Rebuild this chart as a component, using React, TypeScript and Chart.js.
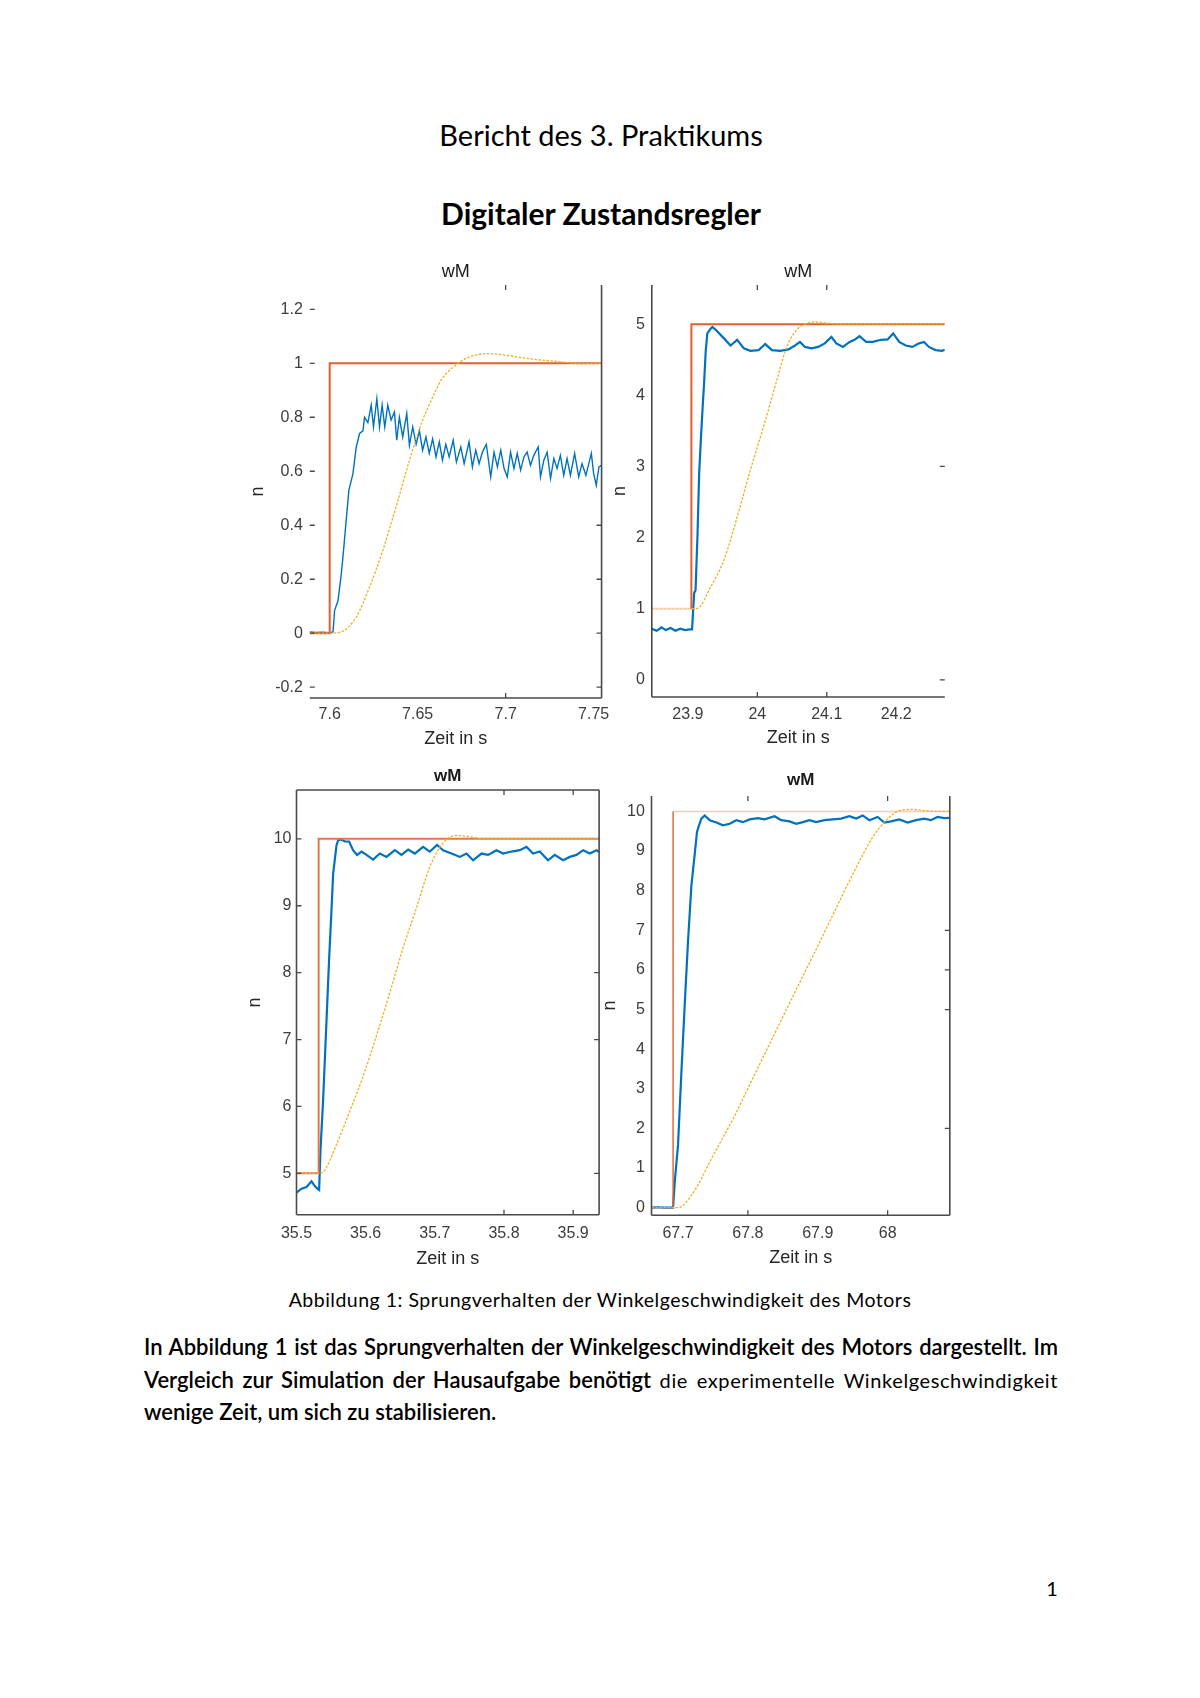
import React, { useEffect, useRef } from "react";
import { Chart, registerables } from "chart.js";

Chart.register(...registerables);

type Pt = [number, number];

// ---------- texts ----------
const docTitle = "Bericht des 3. Praktikums";
const docSubtitle = "Digitaler Zustandsregler";
const figCaption = "Abbildung 1: Sprungverhalten der Winkelgeschwindigkeit des Motors";
const panelTitle = "wM";
const xAxisTitle = "Zeit in s";
const yAxisTitle = "n";
const pageNumber = "1";

// ---------- panel 1 (top left) ----------
const p1XRange: Pt = [7.5887, 7.7545];
const p1YRange: Pt = [-0.24, 1.29];
const p1XTicks = [7.6, 7.65, 7.7, 7.75];
const p1YTicks = [-0.2, 0, 0.2, 0.4, 0.6, 0.8, 1, 1.2];
const p1Reference: Pt[] = [[7.5887, 0], [7.6, 0], [7.6, 1], [7.7545, 1]];
const p1Simulation: Pt[] = [
  [7.5887, 0], [7.6, 0], [7.6066, 0.005], [7.6151, 0.06], [7.6226, 0.17], [7.6302, 0.307],
  [7.6377, 0.468], [7.6453, 0.64], [7.6528, 0.789], [7.6604, 0.9], [7.6632, 0.937],
  [7.6717, 0.993], [7.6792, 1.023], [7.6906, 1.036], [7.7, 1.03], [7.7132, 1.017],
  [7.732, 1.005], [7.7415, 0.999], [7.7545, 1.0],
];
const p1Measured: Pt[] = [
  [7.5887, 0.005], [7.592, 0.003], [7.596, 0.004], [7.6, 0.002], [7.6019, 0.005], [7.6028, 0.085],
  [7.6047, 0.12], [7.6066, 0.22], [7.6075, 0.28], [7.6094, 0.42], [7.6109, 0.53], [7.6132, 0.59],
  [7.6151, 0.69], [7.617, 0.74], [7.6189, 0.75], [7.6198, 0.8], [7.6217, 0.78], [7.6236, 0.845],
  [7.6249, 0.764], [7.6268, 0.869], [7.6283, 0.764], [7.6298, 0.845], [7.6313, 0.764], [7.633, 0.845],
  [7.6349, 0.79], [7.6368, 0.82], [7.6381, 0.715], [7.6396, 0.8], [7.6415, 0.727], [7.6438, 0.814],
  [7.6453, 0.696], [7.6472, 0.764], [7.6491, 0.7], [7.651, 0.75], [7.6528, 0.678], [7.6547, 0.727],
  [7.6566, 0.666], [7.6585, 0.72], [7.6604, 0.653], [7.6623, 0.709], [7.6641, 0.641], [7.666, 0.7],
  [7.6679, 0.653], [7.6702, 0.715], [7.672, 0.634], [7.6745, 0.69], [7.6764, 0.628], [7.6792, 0.709],
  [7.6811, 0.616], [7.683, 0.678], [7.6849, 0.628], [7.6868, 0.671], [7.689, 0.7], [7.6915, 0.579],
  [7.6934, 0.671], [7.6953, 0.616], [7.6972, 0.678], [7.6991, 0.61], [7.7009, 0.579], [7.7028, 0.671],
  [7.7047, 0.61], [7.7066, 0.666], [7.7085, 0.604], [7.7104, 0.653], [7.7122, 0.671], [7.7141, 0.622],
  [7.716, 0.659], [7.7185, 0.69], [7.7198, 0.579], [7.7217, 0.641], [7.7236, 0.671], [7.7255, 0.573],
  [7.7274, 0.647], [7.7292, 0.61], [7.7311, 0.659], [7.733, 0.585], [7.7349, 0.647], [7.7368, 0.585],
  [7.7392, 0.666], [7.7415, 0.579], [7.7434, 0.628], [7.7456, 0.585], [7.7487, 0.666], [7.75, 0.591],
  [7.7515, 0.548], [7.753, 0.616], [7.7545, 0.622],
];

// ---------- panel 2 (top right) ----------
const p2XRange: Pt = [23.848, 24.27];
const p2YRange: Pt = [-0.24, 5.55];
const p2XTicks = [23.9, 24, 24.1, 24.2];
const p2YTicks = [0, 1, 2, 3, 4, 5];
const p2Reference: Pt[] = [[23.848, 1], [23.905, 1], [23.905, 5], [24.27, 5]];
const p2Simulation: Pt[] = [
  [23.848, 1], [23.906, 1], [23.9139, 1.007], [23.9329, 1.31], [23.9519, 1.685], [23.971, 2.29],
  [23.99, 2.95], [24.009, 3.56], [24.028, 4.21], [24.0424, 4.68], [24.0567, 4.92], [24.0662, 4.99],
  [24.0829, 5.03], [24.1043, 5.01], [24.1376, 5.0], [24.27, 5.0],
];
const p2Measured: Pt[] = [
  [23.848, 0.72], [23.855, 0.69], [23.862, 0.74], [23.868, 0.7], [23.875, 0.73], [23.882, 0.69],
  [23.889, 0.72], [23.896, 0.7], [23.903, 0.71], [23.906, 0.71], [23.909, 1.22], [23.911, 1.26],
  [23.9139, 2.06], [23.9162, 2.9], [23.9186, 3.37], [23.921, 3.79], [23.9233, 4.17], [23.9257, 4.63],
  [23.928, 4.87], [23.933, 4.94], [23.9353, 4.96], [23.94, 4.92], [23.9519, 4.8], [23.9614, 4.7],
  [23.971, 4.78], [23.9805, 4.66], [23.99, 4.625], [24.0019, 4.635], [24.0114, 4.72], [24.021, 4.635],
  [24.0329, 4.625], [24.0448, 4.645], [24.0543, 4.7], [24.0614, 4.75], [24.0686, 4.68], [24.0781, 4.66],
  [24.0876, 4.68], [24.0971, 4.73], [24.1067, 4.82], [24.1138, 4.73], [24.1233, 4.68], [24.1329, 4.75],
  [24.14, 4.78], [24.1471, 4.83], [24.1567, 4.75], [24.1662, 4.75], [24.1781, 4.78], [24.1876, 4.785],
  [24.1957, 4.87], [24.2043, 4.75], [24.2138, 4.7], [24.2233, 4.68], [24.2329, 4.73], [24.24, 4.75],
  [24.2471, 4.68], [24.2567, 4.635], [24.2662, 4.625], [24.27, 4.64],
];

// ---------- panel 3 (bottom left) ----------
const p3XRange: Pt = [35.5, 35.9375];
const p3YRange: Pt = [4.38, 10.73];
const p3XTicks = [35.5, 35.6, 35.7, 35.8, 35.9];
const p3YTicks = [5, 6, 7, 8, 9, 10];
const p3Reference: Pt[] = [[35.5, 5], [35.532, 5], [35.532, 10], [35.9375, 10]];
const p3Simulation: Pt[] = [
  [35.5, 5], [35.532, 5], [35.5385, 5.02], [35.5578, 5.43], [35.5771, 5.93], [35.5963, 6.45],
  [35.6157, 7.06], [35.6349, 7.7], [35.6541, 8.37], [35.6735, 8.97], [35.6927, 9.58], [35.712, 9.94],
  [35.7313, 10.05], [35.7505, 10.03], [35.7698, 10.0], [35.9375, 10.0],
];
const p3Measured: Pt[] = [
  [35.5, 4.71], [35.5072, 4.77], [35.5145, 4.795], [35.5217, 4.88], [35.5265, 4.81], [35.5313, 4.76],
  [35.5327, 4.75], [35.5347, 5.35], [35.5385, 6.1], [35.5434, 7.29], [35.5471, 8.19], [35.5506, 8.94],
  [35.553, 9.48], [35.5578, 9.9], [35.5602, 9.98], [35.565, 9.99], [35.5698, 9.96], [35.576, 9.96],
  [35.5818, 9.83], [35.5876, 9.76], [35.594, 9.81], [35.6012, 9.76], [35.6108, 9.69], [35.6204, 9.78],
  [35.6301, 9.73], [35.6421, 9.83], [35.6518, 9.76], [35.6614, 9.84], [35.671, 9.78], [35.683, 9.88],
  [35.6927, 9.81], [35.7033, 9.91], [35.712, 9.83], [35.7241, 9.78], [35.7361, 9.73], [35.7458, 9.78],
  [35.7553, 9.68], [35.7675, 9.78], [35.777, 9.76], [35.7891, 9.83], [35.7987, 9.78], [35.8108, 9.81],
  [35.8228, 9.83], [35.8325, 9.88], [35.842, 9.78], [35.8517, 9.81], [35.8637, 9.68], [35.8734, 9.76],
  [35.8854, 9.68], [35.8951, 9.73], [35.9048, 9.76], [35.9144, 9.83], [35.924, 9.78], [35.9337, 9.83],
  [35.9375, 9.8],
];

// ---------- panel 4 (bottom right) ----------
const p4XRange: Pt = [67.662, 68.089];
const p4YRange: Pt = [-0.19, 10.39];
const p4XTicks = [67.7, 67.8, 67.9, 68];
const p4YTicks = [0, 1, 2, 3, 4, 5, 6, 7, 8, 9, 10];
const p4Reference: Pt[] = [[67.662, 0], [67.6929, 0], [67.6929, 10], [68.089, 10]];
const p4Simulation: Pt[] = [
  [67.662, 0], [67.7, 0], [67.7214, 0.37], [67.75, 1.31], [67.7786, 2.24], [67.8071, 3.27],
  [67.8357, 4.3], [67.8643, 5.33], [67.8929, 6.35], [67.9214, 7.38], [67.95, 8.41], [67.9786, 9.35],
  [67.9977, 9.77], [68.0167, 10.02], [68.0357, 10.05], [68.0548, 10.02], [68.0738, 10.0], [68.089, 10.0],
];
const p4Measured: Pt[] = [
  [67.662, 0], [67.67, 0.01], [67.68, 0], [67.6929, 0], [67.6953, 0.65], [67.7, 1.59], [67.7049, 3.46],
  [67.7096, 5.14], [67.7143, 6.73], [67.7191, 8.13], [67.7239, 8.93], [67.7271, 9.48], [67.73, 9.65],
  [67.7334, 9.82], [67.7381, 9.9], [67.7453, 9.78], [67.7549, 9.72], [67.7643, 9.65], [67.7739, 9.69],
  [67.7834, 9.78], [67.7929, 9.73], [67.8024, 9.8], [67.8143, 9.83], [67.8239, 9.8], [67.8381, 9.88],
  [67.8477, 9.78], [67.8596, 9.75], [67.8691, 9.69], [67.8786, 9.73], [67.8881, 9.78], [67.8977, 9.73],
  [67.9096, 9.78], [67.9214, 9.8], [67.9334, 9.82], [67.9453, 9.88], [67.9549, 9.82], [67.9643, 9.9],
  [67.9739, 9.78], [67.9857, 9.86], [67.9953, 9.72], [68.0049, 9.75], [68.0167, 9.8], [68.0286, 9.72],
  [68.0406, 9.78], [68.0524, 9.82], [68.062, 9.78], [68.0714, 9.86], [68.081, 9.83], [68.089, 9.84],
];

// ---------- frame decorations (which edges and inner tick marks are visible) ----------
const p1Frame = { left: false, right: true, top: false, bottom: true, leftTicks: p1YTicks, rightTicks: [-0.2, 0, 0.2, 0.4], topTicks: [7.7], bottomTicks: [7.7] };
const p2Frame = { left: true, right: false, top: false, bottom: true, leftTicks: [] as number[], rightTicks: [0, 3], topTicks: [24, 24.1], bottomTicks: [24, 24.1] };
const p3Frame = { left: true, right: true, top: true, bottom: true, leftTicks: p3YTicks, rightTicks: [5, 7, 8], topTicks: [35.8, 35.9], bottomTicks: [35.8, 35.9] };
const p4Frame = { left: true, right: true, top: false, bottom: true, leftTicks: [] as number[], rightTicks: [2, 5, 6, 7], topTicks: [67.8, 68], bottomTicks: [67.8, 68] };

// ---------- layout / styles ----------
const RED = "#E0602E";
const placements = [
  { L: 310, R: 603, T: 285, B: 698, yw: 62.8, xh: 51.7, titleDy: 13, xPad: 7.4, yPad: 7, bold: false,
    ref: { pre: RED, vert: RED, post: RED, width: 2 }, simPre: "#EDB120" },
  { L: 652, R: 945, T: 285, B: 697, yw: 42.8, xh: 51.7, titleDy: 13, xPad: 8.4, yPad: 7, bold: false,
    ref: { pre: "rgba(245,185,150,0.55)", vert: RED, post: RED, width: 2 }, simPre: "rgba(237,177,32,0.25)" },
  { L: 296.7, R: 599.3, T: 790, B: 1214.8, yw: 52.5, xh: 55.3, titleDy: 14, xPad: 8.9, yPad: 5, bold: true,
    ref: { pre: "#E8764D", vert: "#E8764D", post: "#E8764D", width: 2 }, simPre: "#EDB120" },
  { L: 651.7, R: 950, T: 795.6, B: 1214.8, yw: 52.5, xh: 53.4, titleDy: 16, xPad: 8.9, yPad: 6.7, bold: true,
    ref: { pre: RED, vert: RED, post: "rgba(240,160,135,0.55)", width: 1.4 }, simPre: "#EDB120" },
];

const panels = [
  { xr: p1XRange, yr: p1YRange, xt: p1XTicks, yt: p1YTicks, ref: p1Reference, sim: p1Simulation, meas: p1Measured, frame: p1Frame, measWidth: 1.4 },
  { xr: p2XRange, yr: p2YRange, xt: p2XTicks, yt: p2YTicks, ref: p2Reference, sim: p2Simulation, meas: p2Measured, frame: p2Frame, measWidth: 2.2 },
  { xr: p3XRange, yr: p3YRange, xt: p3XTicks, yt: p3YTicks, ref: p3Reference, sim: p3Simulation, meas: p3Measured, frame: p3Frame, measWidth: 2.2 },
  { xr: p4XRange, yr: p4YRange, xt: p4XTicks, yt: p4YTicks, ref: p4Reference, sim: p4Simulation, meas: p4Measured, frame: p4Frame, measWidth: 2.2 },
];

const AX_FONT = "'Liberation Sans', Arial, sans-serif";
const DOC_FONT = "Lato, 'Open Sans', sans-serif";
const PAD_TOP = 40;

const fmt = (v: number) => String(Math.round(v * 10000) / 10000);
const toXY = (pts: Pt[]) => pts.map(([x, y]) => ({ x, y }));

function Panel({ idx }: { idx: number }) {
  const ref = useRef<HTMLCanvasElement>(null);
  const pl = placements[idx];
  const pn = panels[idx];
  const plotW = pl.R - pl.L;
  const plotH = pl.B - pl.T;
  const W = Math.ceil(pl.yw + plotW + 14);
  const H = Math.ceil(PAD_TOP + plotH + pl.xh + 2);
  const padRight = W - pl.yw - plotW;
  const padBottom = H - PAD_TOP - plotH - pl.xh;

  useEffect(() => {
    const frame = pn.frame;
    const framePlugin = {
      id: "matlabFrame" + idx,
      afterDatasetsDraw(chart: any) {
        const { ctx, chartArea: a, scales } = chart;
        const xs = scales.x;
        const ys = scales.y;
        ctx.save();
        ctx.strokeStyle = "#4a4a4a";
        ctx.lineWidth = 1.6;
        ctx.beginPath();
        if (frame.left) { ctx.moveTo(a.left, a.top); ctx.lineTo(a.left, a.bottom); }
        if (frame.right) { ctx.moveTo(a.right, a.top); ctx.lineTo(a.right, a.bottom); }
        if (frame.top) { ctx.moveTo(a.left, a.top); ctx.lineTo(a.right, a.top); }
        if (frame.bottom) { ctx.moveTo(a.left, a.bottom); ctx.lineTo(a.right, a.bottom); }
        ctx.stroke();
        ctx.lineWidth = 1.3;
        ctx.beginPath();
        const tl = 5;
        frame.leftTicks.forEach((v: number) => { const p = ys.getPixelForValue(v); ctx.moveTo(a.left, p); ctx.lineTo(a.left + tl, p); });
        frame.rightTicks.forEach((v: number) => { const p = ys.getPixelForValue(v); ctx.moveTo(a.right - tl, p); ctx.lineTo(a.right, p); });
        frame.topTicks.forEach((v: number) => { const p = xs.getPixelForValue(v); ctx.moveTo(p, a.top); ctx.lineTo(p, a.top + tl); });
        frame.bottomTicks.forEach((v: number) => { const p = xs.getPixelForValue(v); ctx.moveTo(p, a.bottom); ctx.lineTo(p, a.bottom - tl); });
        ctx.stroke();
        ctx.fillStyle = "#1a1a1a";
        ctx.font = (pl.bold ? "bold 17px " : "18px ") + AX_FONT;
        ctx.textAlign = "center";
        ctx.textBaseline = "middle";
        ctx.fillText(panelTitle, (a.left + a.right) / 2, a.top - pl.titleDy);
        ctx.restore();
      },
    };

    const refStyle = pl.ref;
    const chart = new Chart(ref.current as HTMLCanvasElement, {
      type: "line",
      data: {
        datasets: [
          {
            label: "Simulation",
            data: toXY(pn.sim),
            borderColor: "#EDB120",
            borderWidth: 1.3,
            borderDash: [2.5, 1.5],
            pointRadius: 0,
            cubicInterpolationMode: "monotone",
            segment: {
              borderColor: (c: any) => (c.p0DataIndex === 0 ? pl.simPre : "#EDB120"),
            },
          },
          {
            label: "Sollwert",
            data: toXY(pn.ref),
            borderColor: refStyle.post,
            borderWidth: refStyle.width,
            pointRadius: 0,
            tension: 0,
            segment: {
              borderColor: (c: any) =>
                c.p0DataIndex === 0 ? refStyle.pre : c.p0DataIndex === 1 ? refStyle.vert : refStyle.post,
            },
          },
          {
            label: "Messung",
            data: toXY(pn.meas),
            borderColor: "#0072BD",
            borderWidth: pn.measWidth,
            pointRadius: 0,
            tension: 0,
          },
        ],
      } as any,
      options: {
        animation: false,
        responsive: false,
        events: [],
        layout: { padding: { top: PAD_TOP, right: padRight, bottom: padBottom, left: 0 } },
        plugins: { legend: { display: false }, tooltip: { enabled: false }, title: { display: false } },
        scales: {
          x: {
            type: "linear",
            min: pn.xr[0],
            max: pn.xr[1],
            grid: { display: false, drawTicks: false },
            border: { display: false },
            ticks: {
              autoSkip: false,
              maxRotation: 0,
              padding: pl.xPad,
              color: "#3c3c3c",
              font: { family: AX_FONT, size: 16 },
              callback: (v: any) => fmt(Number(v)),
            },
            title: { display: true, text: xAxisTitle, padding: 0, color: "#262626", font: { family: AX_FONT, size: 18 } },
            afterBuildTicks: (s: any) => { s.ticks = pn.xt.map((v) => ({ value: v })); },
            afterFit: (s: any) => { s.height = pl.xh; },
          },
          y: {
            type: "linear",
            min: pn.yr[0],
            max: pn.yr[1],
            grid: { display: false, drawTicks: false },
            border: { display: false },
            ticks: {
              autoSkip: false,
              padding: pl.yPad,
              color: "#3c3c3c",
              font: { family: AX_FONT, size: 16 },
              callback: (v: any) => fmt(Number(v)),
            },
            title: { display: true, text: yAxisTitle, padding: 0, color: "#262626", font: { family: AX_FONT, size: 18 } },
            afterBuildTicks: (s: any) => { s.ticks = pn.yt.map((v) => ({ value: v })); },
            afterFit: (s: any) => { s.width = pl.yw; },
          },
        },
      } as any,
      plugins: [framePlugin as any],
    });
    return () => chart.destroy();
  }, []);

  return (
    <canvas
      ref={ref}
      width={W}
      height={H}
      style={{ position: "absolute", left: pl.L - pl.yw, top: pl.T - PAD_TOP, width: W, height: H }}
    />
  );
}

const lineStyle = (top: number): React.CSSProperties => ({
  position: "absolute",
  left: 144,
  width: 914,
  top,
  height: 32,
  lineHeight: "32px",
  fontFamily: DOC_FONT,
  fontSize: 22,
  fontWeight: 600,
  color: "#000",
  whiteSpace: "nowrap",
  textAlign: "justify",
  textAlignLast: "justify" as any,
});

export default function App() {
  return (
    <div style={{ position: "absolute", left: 0, top: 0, width: 1200, height: 1698, background: "#fff", overflow: "hidden" }}>
      <div style={{ position: "absolute", left: 301, width: 600, top: 135 - 18, height: 36, lineHeight: "36px", textAlign: "center", fontFamily: DOC_FONT, fontSize: 29, color: "#000" }}>
        {docTitle}
      </div>
      <div style={{ position: "absolute", left: 301, width: 600, top: 213 - 18, height: 36, lineHeight: "36px", textAlign: "center", fontFamily: DOC_FONT, fontSize: 30, fontWeight: 700, color: "#000" }}>
        {docSubtitle}
      </div>
      {placements.map((_, i) => (
        <Panel key={i} idx={i} />
      ))}
      <div style={{ position: "absolute", left: 200, width: 800, top: 1300 - 14, height: 28, lineHeight: "28px", textAlign: "center", fontFamily: DOC_FONT, fontSize: 19.5, letterSpacing: 0.5, color: "#000" }}>
        {figCaption}
      </div>
      <div style={lineStyle(1347 - 16)}>
        In Abbildung 1 ist das Sprungverhalten der Winkelgeschwindigkeit des Motors dargestellt. Im
      </div>
      <div style={lineStyle(1380 - 16)}>
        Vergleich zur Simulation der Hausaufgabe benötigt{" "}
        <span style={{ fontWeight: 400, fontSize: 20, letterSpacing: 0.6 }}>die experimentelle Winkelgeschwindigkeit</span>
      </div>
      <div style={{ ...lineStyle(1412 - 16), textAlignLast: "left" as any, textAlign: "left" }}>
        wenige Zeit, um sich zu stabilisieren.
      </div>
      <div style={{ position: "absolute", left: 1032, width: 40, top: 1588 - 14, height: 28, lineHeight: "28px", textAlign: "center", fontFamily: DOC_FONT, fontSize: 20, color: "#000" }}>
        {pageNumber}
      </div>
    </div>
  );
}
